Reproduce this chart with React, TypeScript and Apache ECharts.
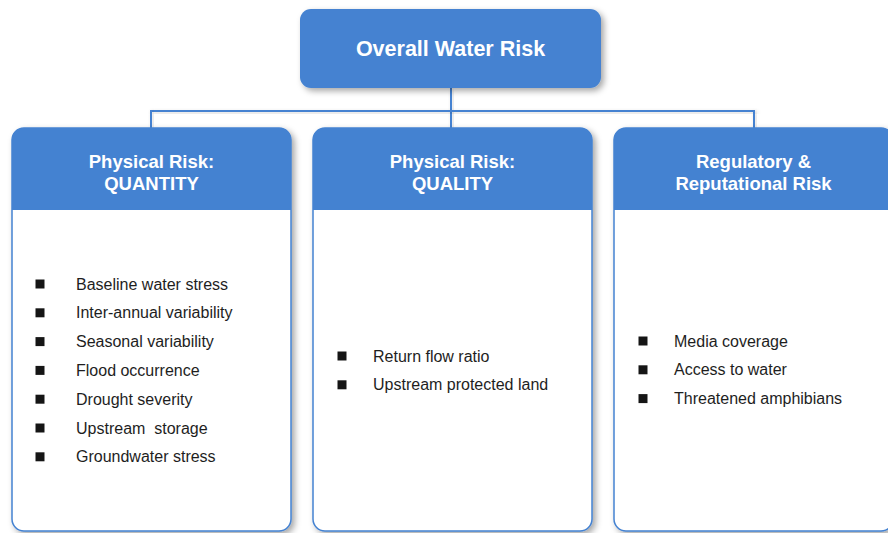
import React, { useEffect, useRef } from "react";
import * as echarts from "echarts";

const rootTitle = "Overall Water Risk";
const categories = [
  ["Physical Risk:", "QUANTITY"],
  ["Physical Risk:", "QUALITY"],
  ["Regulatory &", "Reputational Risk"],
];
const quantityItems = [
  "Baseline water stress",
  "Inter-annual variability",
  "Seasonal variability",
  "Flood occurrence",
  "Drought severity",
  "Upstream  storage",
  "Groundwater stress",
];
const qualityItems = ["Return flow ratio", "Upstream protected land"];
const regulatoryItems = ["Media coverage", "Access to water", "Threatened amphibians"];
const itemLists = [quantityItems, qualityItems, regulatoryItems];

const BLUE = "#4482d1";
const FONT = "'Liberation Sans', Arial, sans-serif";

export default function App() {
  const ref = useRef<HTMLDivElement>(null);
  useEffect(() => {
    if (!ref.current) return;
    const chart = echarts.init(ref.current, null, { renderer: "svg" });
    const shadow = {
      shadowBlur: 6,
      shadowOffsetX: 3,
      shadowOffsetY: 3,
      shadowColor: "rgba(0,0,0,0.35)",
    };
    const lineShadow = {
      shadowBlur: 4,
      shadowOffsetX: 2,
      shadowOffsetY: 2,
      shadowColor: "rgba(0,0,0,0.22)",
    };
    const boxLefts = [12, 313, 614];
    const boxW = 279;
    const boxTop = 128;
    const boxBottom = 531;
    const headerBottom = 210;
    const elements: any[] = [];

    // connectors drawn as thin rects (so shadows render)
    const conn = (x: number, y: number, w: number, h: number) => ({
      type: "rect",
      shape: { x, y, width: w, height: h },
      style: { fill: BLUE, ...lineShadow },
      z: 1,
    });
    elements.push(conn(450, 88, 2, 40));
    elements.push(conn(150, 110, 605, 2));
    elements.push(conn(150, 110, 2, 18));
    elements.push(conn(753, 110, 2, 18));

    // top box
    elements.push({
      type: "rect",
      shape: { x: 300, y: 9, width: 301, height: 79, r: 11 },
      style: { fill: BLUE, ...shadow },
      z: 2,
    });
    elements.push({
      type: "text",
      x: 450.5,
      y: 49,
      style: {
        text: rootTitle,
        fill: "#ffffff",
        font: `bold 21.5px ${FONT}`,
        align: "center",
        verticalAlign: "middle",
      },
      z: 3,
    });

    categories.forEach((cat, i) => {
      const x = boxLefts[i];
      const w = boxW;
      elements.push({
        type: "rect",
        shape: { x, y: boxTop, width: w, height: boxBottom - boxTop, r: 12 },
        style: { fill: "#ffffff", stroke: BLUE, lineWidth: 1.5, ...shadow },
        z: 2,
      });
      elements.push({
        type: "rect",
        shape: { x: x, y: boxTop, width: w, height: headerBottom - boxTop, r: [12, 12, 0, 0] },
        style: { fill: BLUE },
        z: 3,
      });
      const cx = x + w / 2;
      cat.forEach((line, j) => {
        elements.push({
          type: "text",
          x: cx,
          y: 161 + j * 22.5,
          style: {
            text: line,
            fill: "#ffffff",
            font: `bold 18.5px ${FONT}`,
            align: "center",
            verticalAlign: "middle",
          },
          z: 4,
        });
      });
      const items = itemLists[i];
      const step = 28.8;
      const startY = i === 0 ? 284 : i === 1 ? 356 : 341;
      const bulletX = [40, 342, 643][i];
      const textX = [76, 373, 674][i];
      items.forEach((item, k) => {
        const y = startY + k * step;
        elements.push({
          type: "rect",
          shape: { x: bulletX - 4.5, y: y - 4.5, width: 9, height: 9 },
          style: { fill: "#151515" },
          z: 4,
        });
        elements.push({
          type: "text",
          x: textX,
          y,
          style: {
            text: item,
            fill: "#1e1e1e",
            font: `16px ${FONT}`,
            align: "left",
            verticalAlign: "middle",
          },
          z: 4,
        });
      });
    });

    chart.setOption({
      animation: false,
      backgroundColor: "#ffffff",
      graphic: { elements },
    });
    return () => chart.dispose();
  }, []);
  return (
    <div
      ref={ref}
      style={{ position: "fixed", left: 0, top: 0, width: 888, height: 533 }}
    />
  );
}
